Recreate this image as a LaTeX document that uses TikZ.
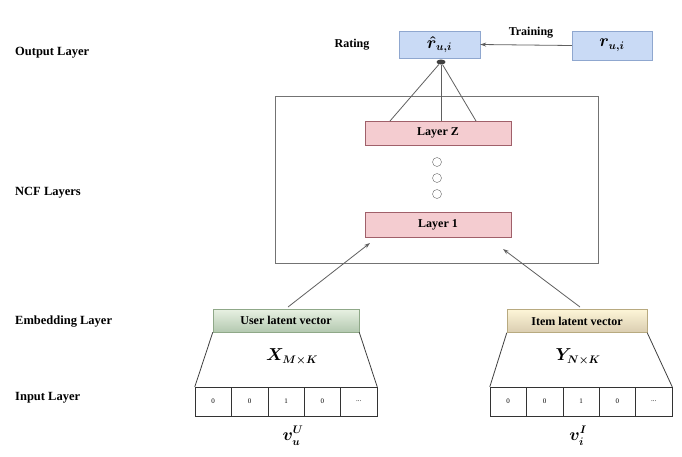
\documentclass[tikz,border=0pt]{standalone}
\usepackage{fontspec}
\setmainfont{Liberation Serif}
\usetikzlibrary{arrows.meta,shapes.geometric}
\definecolor{blueF}{HTML}{C9DAF5}
\definecolor{blueD}{HTML}{8FA7CF}
\definecolor{pinkF}{HTML}{F4CCD0}
\definecolor{pinkD}{HTML}{A0606A}
\definecolor{greenF}{HTML}{D9E8D0}
\definecolor{greenD}{HTML}{8FA888}
\definecolor{yellowF}{HTML}{FCF1C6}
\definecolor{yellowD}{HTML}{B8AA80}
\definecolor{lineG}{HTML}{606060}
\newcommand\celldots{...}
\begin{document}
\begin{tikzpicture}[x=1pt,y=-1pt,
  lbl/.style={font=\fontsize{12.5}{14}\selectfont\bfseries,anchor=west,inner sep=0pt},
  outbox/.style={draw=blueD,fill=blueF,minimum width=81pt,minimum height=27pt,inner sep=0pt},
  layerbox/.style={draw=pinkD,fill=pinkF,minimum width=146pt,minimum height=24pt,inner sep=0pt,font=\fontsize{12}{14}\selectfont\bfseries},
  embbox/.style={minimum height=23pt,inner sep=0pt,font=\fontsize{12}{14}\selectfont\bfseries},
  cell/.style={draw=black!80,minimum width=36.4pt,minimum height=29pt,inner sep=0pt,font=\fontsize{7}{8}\selectfont},
  conn/.style={draw=lineG,line width=0.8pt},
  arr/.style={conn,-{Stealth[length=6pt,width=4pt]}},
  dotc/.style={circle,draw=black!60,minimum size=9pt,inner sep=0pt},
  mathlbl/.style={inner sep=1pt,font=\fontsize{16}{18}\selectfont\boldmath}
]
\useasboundingbox (0,0) rectangle (682,456);
\fill[white] (0,0) rectangle (682,456);

% left-hand layer labels
\node[lbl] (lOut) at (15,53) {Output Layer};
\node[lbl] (lNcf) at (15,193) {NCF Layers};
\node[lbl] (lEmb) at (15,322) {Embedding Layer};
\node[lbl] (lIn) at (15,398) {Input Layer};

% output layer
\node[outbox,font=\fontsize{16}{18}\selectfont\boldmath] (rhat) at (439.5,44.5) {$\hat{r}_{u,i}$};
\node[outbox,minimum width=80pt,minimum height=29pt,font=\fontsize{16}{18}\selectfont\boldmath] (rui) at (612,45.5) {$r_{u,i}$};
\node[font=\fontsize{12}{14}\selectfont\bfseries] (rating) at (352,45) {Rating};
\node[font=\fontsize{12}{14}\selectfont\bfseries] (training) at (531,33) {Training};
\draw[arr] (rui.west) -- (rhat.east);
\node[ellipse,fill=black!75,minimum width=9pt,minimum height=5pt,inner sep=0pt] (hub) at (441,62) {};

% NCF block
\node[draw=black!55,line width=0.8pt,minimum width=323pt,minimum height=167pt,inner sep=0pt] (ncf) at (436.5,179.5) {};
\node[layerbox] (lz) at (438,133) {Layer Z};
\node[layerbox,minimum height=25pt] (l1) at (438,224.5) {Layer 1};
\node[dotc] (d1) at (437,162) {};
\node[dotc] (d2) at (437,178) {};
\node[dotc] (d3) at (437,194) {};
\coordinate (lzA) at (390,121);
\coordinate (lzB) at (441,121);
\coordinate (lzC) at (476,121);
\draw[conn] (hub) -- (lzA);
\draw[conn] (hub) -- (lzB);
\draw[conn] (hub) -- (lzC);

% user side
\node[embbox,draw=greenD,top color=greenF!60,bottom color=greenF!85!green!70!black!60,minimum width=146pt] (uemb) at (286,320.5) {User latent vector};
\node[mathlbl] (xmk) at (292,357) {$X_{M\times K}$};
\foreach \i/\v in {0/0,1/0,2/1,3/0,4/\celldots}{
  \node[cell] (u\i) at ({195+18.2+36.4*\i},401.5) {\v};
}
\draw[conn,black!75] (uemb.south west) -- (u0.north west);
\draw[conn,black!75] (uemb.south east) -- (u4.north east);
\node[mathlbl] (vu) at (293,436) {$v_u^U$};
\coordinate (l1L) at (370,243);
\draw[arr] (288,307) -- (l1L);

% item side
\node[embbox,draw=yellowD,top color=yellowF!70,bottom color=yellowF!90!orange!80!black!70,minimum width=140pt] (iemb) at (577,321) {Item latent vector};
\node[mathlbl] (ynk) at (578,357) {$Y_{N\times K}$};
\foreach \i/\v in {0/0,1/0,2/1,3/0,4/\celldots}{
  \node[cell] (i\i) at ({490+18.2+36.4*\i},401.5) {\v};
}
\draw[conn,black!75] (iemb.south west) -- (i0.north west);
\draw[conn,black!75] (iemb.south east) -- (i4.north east);
\node[mathlbl] (vi) at (578,436) {$v_i^I$};
\coordinate (l1R) at (503,249);
\draw[arr] (580,307) -- (l1R);
\end{tikzpicture}
\end{document}
